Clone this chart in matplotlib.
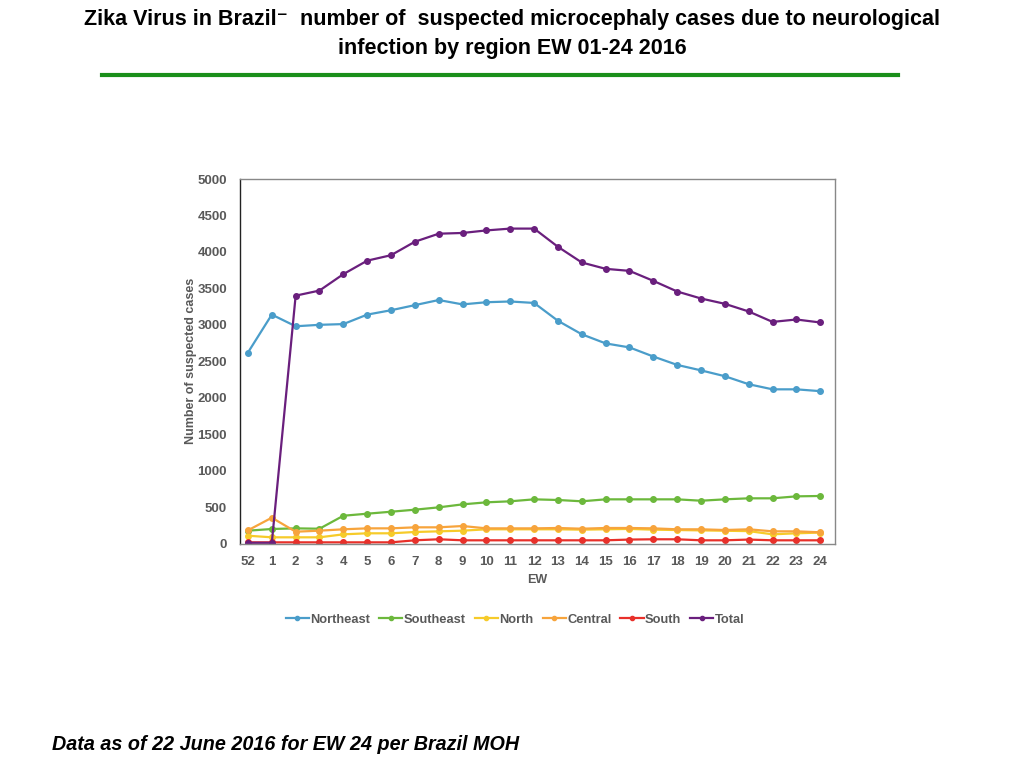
import matplotlib.pyplot as plt
from matplotlib.lines import Line2D

weeks = ['52', '1', '2', '3', '4', '5', '6', '7', '8', '9', '10', '11', '12',
         '13', '14', '15', '16', '17', '18', '19', '20', '21', '22', '23', '24']

northeast = [2620, 3140, 2980, 3000, 3010, 3140, 3200, 3270, 3340, 3280, 3310, 3320, 3300,
             3055, 2870, 2745, 2690, 2565, 2450, 2375, 2295, 2185, 2115, 2115, 2090]
southeast = [176, 199, 208, 203, 381, 409, 436, 464, 496, 537, 565, 579, 606,
             597, 579, 606, 606, 606, 606, 587, 606, 620, 620, 647, 652]
north = [107, 85, 85, 85, 126, 140, 140, 158, 167, 176, 195, 195, 195,
         195, 190, 195, 200, 190, 185, 180, 175, 170, 126, 140, 150]
central = [181, 354, 162, 176, 195, 208, 208, 222, 222, 240, 208, 208, 208,
           213, 203, 213, 213, 208, 195, 195, 185, 195, 167, 167, 154]
south = [16, 16, 16, 16, 16, 16, 16, 44, 58, 44, 44, 44, 44,
         44, 44, 44, 54, 58, 58, 44, 44, 54, 44, 44, 44]
total = [10, 10, 3400, 3470, 3695, 3880, 3955, 4140, 4250, 4260, 4295, 4320, 4320,
         4070, 3855, 3768, 3740, 3603, 3457, 3361, 3288, 3183, 3040, 3073, 3032]

series = [('Northeast', northeast, '#4a9dca'),
          ('Southeast', southeast, '#6cb83c'),
          ('North', north, '#f6cb2a'),
          ('Central', central, '#f7a43c'),
          ('South', south, '#e8302a'),
          ('Total', total, '#6a1f7d')]

grey = '#595959'
plt.rcParams['font.family'] = ['Liberation Sans', 'DejaVu Sans']

fig = plt.figure(figsize=(10.24, 7.68), dpi=100)
ax = fig.add_axes([0.234, 0.2923, 0.581, 0.4746])

x = list(range(len(weeks)))
for name, vals, col in series:
    ax.plot(x, vals, color=col, lw=1.6, marker='o', ms=4.0, label=name)

ax.set_xlim(-0.35, 24.6)
ax.set_ylim(0, 5000)
ax.set_yticks(range(0, 5001, 500))
ax.set_xticks(x)
ax.set_xticklabels(weeks)
ax.tick_params(length=0, labelsize=9.5, labelcolor=grey)
ax.tick_params(axis='x', pad=9)
ax.tick_params(axis='y', pad=9)
for lab in ax.get_xticklabels() + ax.get_yticklabels():
    lab.set_fontweight('bold')

ax.spines['left'].set_color('#222222')
for s in ['top', 'right', 'bottom']:
    ax.spines[s].set_color('#888888')
for s in ax.spines.values():
    s.set_linewidth(1.0)

ax.set_xlabel('EW', fontsize=9, fontweight='bold', color=grey, labelpad=4)
ax.set_ylabel('Number of suspected cases', fontsize=9, fontweight='bold', color=grey)
ax.yaxis.set_label_coords(-0.072, 0.5)

handles = [Line2D([0], [0], color=c, lw=1.6, marker='o', ms=3) for _, _, c in series]
leg = fig.legend(handles, [n for n, _, _ in series], loc='center', bbox_to_anchor=(0.503, 0.193),
                 ncol=6, frameon=False, handlelength=1.8, handletextpad=0.1, columnspacing=0.7,
                 prop={'size': 9.3, 'weight': 'bold'})
for t in leg.get_texts():
    t.set_color(grey)

fig.text(0.5, 0.974, 'Zika Virus in Brazil\u207b  number of  suspected microcephaly cases due to neurological',
         ha='center', va='center', fontsize=15.5, fontweight='bold')
fig.text(0.5, 0.937, 'infection by region EW 01-24 2016',
         ha='center', va='center', fontsize=15.5, fontweight='bold')
fig.add_artist(Line2D([0.1, 0.877], [0.902, 0.902], color='#1a8f1a', lw=3))

fig.text(0.051, 0.031, 'Data as of 22 June 2016 for EW 24 per Brazil MOH',
         ha='left', va='center', fontsize=14.2, fontweight='bold', fontstyle='italic')

fig.savefig('out.png', dpi=100)
